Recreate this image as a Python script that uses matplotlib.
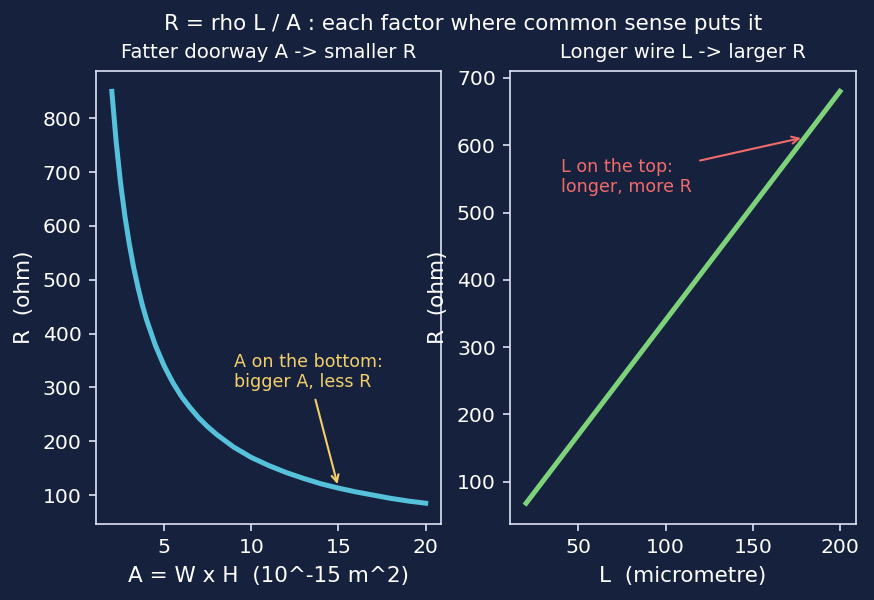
import matplotlib
matplotlib.use('Agg')
import matplotlib.pyplot as plt

# left panel: R against cross-section area
area = [2, 2.25, 2.5, 2.75, 3, 3.25, 3.5, 3.75, 4, 4.5, 5, 5.5, 6, 6.5, 7, 7.5, 8, 9, 10,
        11, 12, 13, 14, 15, 16, 17, 18, 19, 20]
r_area = [850, 756, 680, 618, 567, 523, 486, 453, 425, 378, 340, 309, 283, 262, 243, 227,
          213, 189, 170, 155, 142, 131, 121, 113, 106, 100, 94, 89, 85]

# right panel: R against wire length
length = [20, 50, 100, 150, 200]
r_length = [68, 170, 340, 510, 680]

bg = '#16213e'
fg = '#dde3f5'
plt.rcParams['font.family'] = ['DejaVu Sans']

fig, (ax1, ax2) = plt.subplots(1, 2, figsize=(874 / 150, 600 / 150), dpi=150)
fig.patch.set_facecolor(bg)
fig.subplots_adjust(left=0.110, right=0.979, top=0.882, bottom=0.127, wspace=0.2)

for ax in (ax1, ax2):
    ax.set_facecolor(bg)
    for s in ax.spines.values():
        s.set_color(fg)
    ax.tick_params(colors=fg, labelcolor='white', labelsize=9.8)
    ax.xaxis.label.set_color('white')
    ax.yaxis.label.set_color('white')
    ax.title.set_color('white')

ax1.plot(area, r_area, color='#56c1da', lw=2.4)
ax1.set_title('Fatter doorway A -> smaller R', fontsize=9.4)
ax1.set_xlabel('A = W x H  (10^-15 m^2)', fontsize=10.3)
ax1.set_ylabel('R  (ohm)', fontsize=10.3)
ax1.set_xticks([5, 10, 15, 20])
ax1.annotate('A on the bottom:\nbigger A, less R', xy=(15, 113), xytext=(9, 300),
             color='#f2cf6b', fontsize=8.4,
             arrowprops=dict(arrowstyle='->', color='#f2cf6b'))

ax2.plot(length, r_length, color='#7ed27a', lw=2.4)
ax2.set_title('Longer wire L -> larger R', fontsize=9.4)
ax2.set_xlabel('L  (micrometre)', fontsize=10.3)
ax2.set_ylabel('R  (ohm)', fontsize=10.3)
ax2.annotate('L on the top:\nlonger, more R', xy=(180, 612), xytext=(40, 530),
             color='#f26b6b', fontsize=8.4,
             arrowprops=dict(arrowstyle='->', color='#f26b6b'))

fig.suptitle('R = rho L / A : each factor where common sense puts it', color='white',
             fontsize=10.3, x=0.53, y=0.977)
fig.savefig('out.png', dpi=150, facecolor=bg)
